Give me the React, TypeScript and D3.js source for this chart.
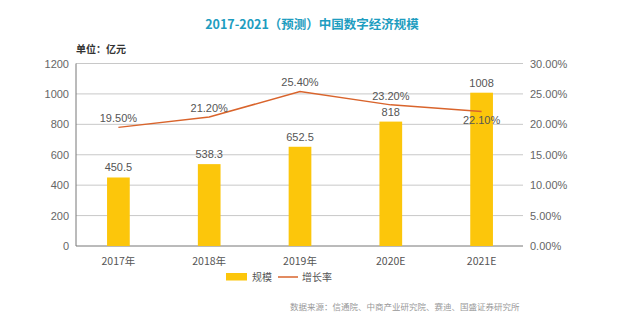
import React from "react";
import * as d3 from "d3";

const categories = ["2017年", "2018年", "2019年", "2020E", "2021E"];
const scale = [450.5, 538.3, 652.5, 818, 1008];
const growth = [19.5, 21.2, 25.4, 23.2, 22.1];
const growthLabels = ["19.50%", "21.20%", "25.40%", "23.20%", "22.10%"];
const leftTicks = [0, 200, 400, 600, 800, 1000, 1200];
const rightTicks = [0, 5, 10, 15, 20, 25, 30];

const W = 620, H = 326;
const L = 76, R = 523, T = 63.5, B = 246;
const FONT = "'Liberation Sans', 'Noto Sans CJK SC', sans-serif";
const CJK = "'Noto Sans CJK SC', sans-serif";

export default function App() {
  const x = d3.scaleBand<string>().domain(categories).range([73, 527]).paddingInner(0.75).paddingOuter(0.375);
  const y = d3.scaleLinear().domain([0, 1200]).range([B, T]);
  const y2 = d3.scaleLinear().domain([0, 30]).range([B, T]);
  const cx = (c: string) => (x(c) as number) + x.bandwidth() / 2;
  const line = d3.line<number>().x((_, i) => cx(categories[i])).y((d) => y2(d));

  return (
    <svg width={W} height={H} style={{ position: "absolute", left: 0, top: 0, background: "#fff" }}>
      <rect width={W} height={H} fill="#fff" />
      <text x={312} y={29} textAnchor="middle" fontFamily={CJK} fontWeight="bold" fontSize={12.5} fill="#1e9dc0">
        2017-2021（预测）中国数字经济规模
      </text>
      <text x={76} y={53} fontFamily={CJK} fontWeight="bold" fontSize={10} fill="#333">单位：亿元</text>
      {leftTicks.map((t) => (
        <g key={t}>
          <line x1={L} x2={R} y1={y(t)} y2={y(t)} stroke={t === 0 ? "#777" : "#c8c8c8"} strokeWidth={1} />
          <text x={69} y={y(t) + 4} textAnchor="end" fontFamily={FONT} fontSize={11} fill="#666">{t}</text>
        </g>
      ))}
      {rightTicks.map((t) => (
        <text key={t} x={530} y={y2(t) + 4} fontFamily={FONT} fontSize={11} fill="#666">{t.toFixed(2)}%</text>
      ))}
      <line x1={L} x2={L} y1={T} y2={B} stroke="#777" />
      {scale.map((v, i) => (
        <g key={i}>
          <rect x={x(categories[i])} y={y(v)} width={x.bandwidth()} height={B - y(v)} fill="#fcc60b" />
          <text x={cx(categories[i])} y={y(v) - 6} textAnchor="middle" fontFamily={FONT} fontSize={11} fill="#555">{v}</text>
        </g>
      ))}
      <path d={line(growth) as string} fill="none" stroke="#d9642c" strokeWidth={1.5} />
      {growth.map((g, i) => (
        <text key={i} x={cx(categories[i])} y={i === 4 ? y2(g) + 12 : y2(g) - 5} textAnchor="middle" fontFamily={FONT} fontSize={11} fill="#555">{growthLabels[i]}</text>
      ))}
      {categories.map((c) => (
        <text key={c} x={cx(c)} y={265} textAnchor="middle" fontFamily={CJK} fontSize={10.5} fill="#555">{c}</text>
      ))}
      <rect x={226} y={273} width={21} height={7.5} fill="#fcc60b" />
      <text x={252} y={281} fontFamily={CJK} fontSize={10} fill="#555">规模</text>
      <line x1={278} x2={298} y1={277} y2={277} stroke="#d9642c" strokeWidth={1.5} />
      <text x={302} y={281} fontFamily={CJK} fontSize={10} fill="#555">增长率</text>
      <text x={290} y={310} fontFamily={CJK} fontSize={8.5} fill="#999">数据来源：信通院、中商产业研究院、赛迪、国盛证券研究所</text>
    </svg>
  );
}
